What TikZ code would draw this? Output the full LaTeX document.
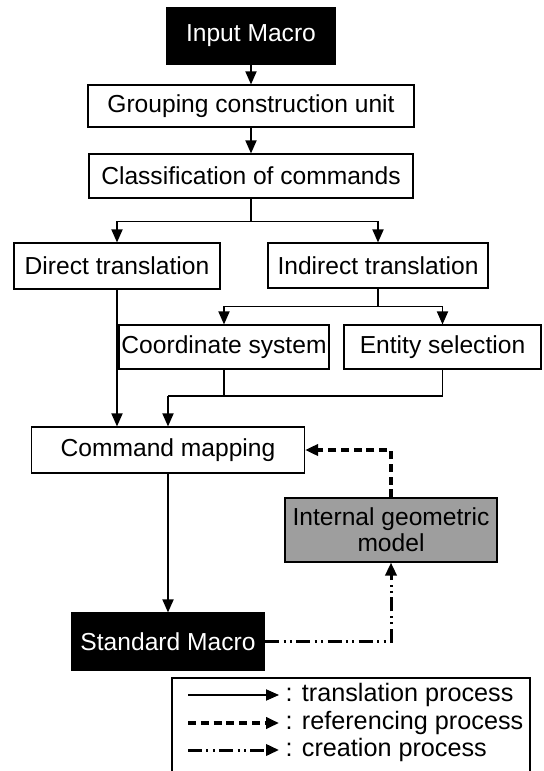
\documentclass[tikz,border=0pt]{standalone}
\usepackage{fontspec}
\setmainfont{Liberation Sans}
\usetikzlibrary{arrows.meta}

\begin{document}
\begin{tikzpicture}[x=0.5pt,y=-0.5pt,
  font=\fontsize{12.3}{13}\selectfont,
  box/.style={draw=black, line width=0.6pt, fill=white, inner sep=0pt, align=center},
  darkbox/.style={box, fill=black, text=white},
  greybox/.style={box, fill=black!38},
  tip/.tip={Triangle[length=6.5pt,width=5.6pt]},
  arr/.style={-tip, line width=0.6pt},
  refarr/.style={-tip, line width=1.6pt, dash pattern=on 4pt off 2.4pt},
  crearr/.style={-tip, line width=1.5pt, dash pattern=on 7pt off 2.2pt on 1pt off 2.2pt on 1pt off 2.2pt},
  legtext/.style={anchor=west, inner sep=1pt, font=\fontsize{12.6}{13}\selectfont}]

\useasboundingbox (0,0) rectangle (544,771);

% process boxes
\node[darkbox, minimum width=84pt,  minimum height=28pt]   (inp) at (251,36)    {Input Macro};
\node[box,     minimum width=163pt, minimum height=21pt]   (grp) at (251,106)   {Grouping construction unit};
\node[box,     minimum width=162pt, minimum height=22pt]   (cls) at (251,176)   {Classification of commands};
\node[box,     minimum width=103pt, minimum height=23pt]   (dir) at (117,266)   {Direct translation};
\node[box,     minimum width=110pt, minimum height=22.5pt] (ind) at (378,265.5) {Indirect translation};
\node[box,     minimum width=105pt, minimum height=22pt]   (crd) at (224,347)   {Coordinate system};
\node[box,     minimum width=98.5pt,minimum height=22pt]   (ent) at (442.5,347) {Entity selection};
\node[box,     minimum width=136.5pt,minimum height=23pt]  (cmd) at (168,450)   {Command mapping};
\node[darkbox, minimum width=96.5pt, minimum height=28.5pt](std) at (168,641.5) {Standard Macro};
\node[greybox, minimum width=106pt, minimum height=32pt]   (igm) at (391,530)
  {Internal geometric\\model};

% translation flow
\draw[arr] (inp) -- (grp);
\draw[arr] (grp) -- (cls);
\draw[arr] (cls.south) -- ++(0,23) -| (dir.north);
\draw[arr] (cls.south) -- ++(0,23) -| (ind.north);
\draw[arr] (ind.south) -- ++(0,18) -| (crd.north);
\draw[arr] (ind.south) -- ++(0,18) -| (ent.north);
\coordinate (merge) at (168,396);
\draw[line width=0.6pt] (crd.south) |- (merge);
\draw[line width=0.6pt] (ent.south) |- (merge);
\draw[arr] (merge) -- (merge |- cmd.north);
\draw[arr] (dir.south) -- (dir.south |- cmd.north);
\draw[arr] (cmd) -- (std);

% referencing and creation
\draw[refarr] (igm.north) |- (cmd.east);
\draw[crearr] (std.east) -| (igm.south);

% legend
\draw[line width=0.6pt] (172,771) -- (172,678) -- (530,678) -- (530,771);
\coordinate (la) at (188,695);
\coordinate (lb) at (188,723);
\coordinate (lc) at (188,750);
\node[legtext] (ta) at (279,695) {\,: translation process};
\node[legtext] (tb) at (279,723) {\,: referencing process};
\node[legtext] (tc) at (279,750) {\,: creation process};
\draw[arr]    (la) -- (ta.west);
\draw[refarr] (lb) -- (tb.west);
\draw[crearr] (lc) -- (tc.west);

\end{tikzpicture}
\end{document}
